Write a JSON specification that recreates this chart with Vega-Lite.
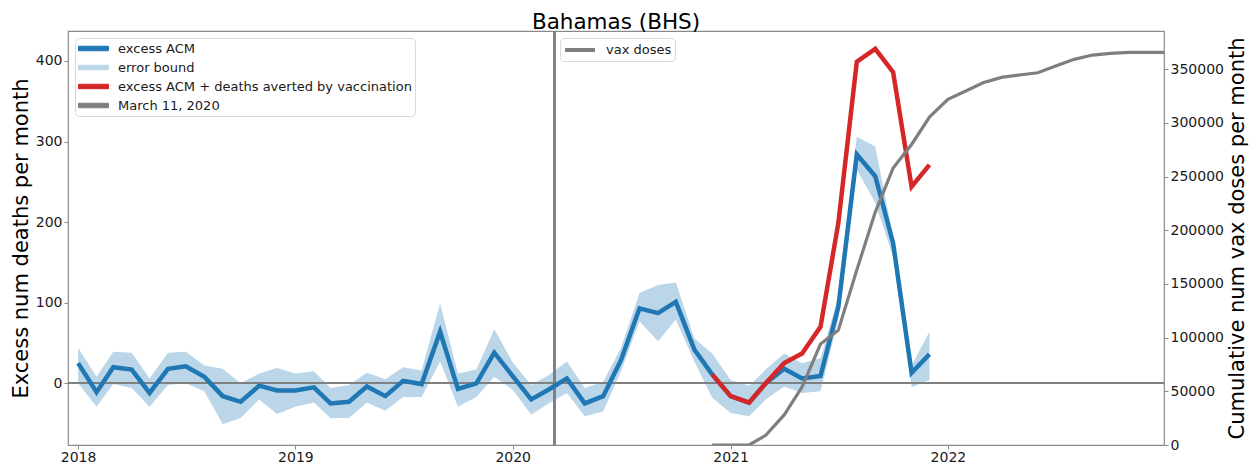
{
  "$schema": "https://vega.github.io/schema/vega-lite/v6.json",
  "width": 1096,
  "height": 414,
  "autosize": {"type": "none"},
  "padding": {"left": 68, "top": 31, "right": 95, "bottom": 26},
  "background": "white",
  "title": {"text": "Bahamas (BHS)", "font": "DejaVu Sans", "fontSize": 21.5, "fontWeight": "normal", "color": "#000000", "anchor": "middle", "frame": "group", "baseline": "alphabetic", "offset": 6, "dy": 26},
  "data": {"values": [
    {"date": "2018-01-01", "acm": 25, "lo": 0, "hi": 44, "red": null, "vax": null},
    {"date": "2018-02-01", "acm": -11, "lo": -29, "hi": 8, "red": null, "vax": null},
    {"date": "2018-03-01", "acm": 20, "lo": -1, "hi": 39, "red": null, "vax": null},
    {"date": "2018-04-01", "acm": 17, "lo": -6, "hi": 38, "red": null, "vax": null},
    {"date": "2018-05-01", "acm": -12, "lo": -29, "hi": 6, "red": null, "vax": null},
    {"date": "2018-06-01", "acm": 18, "lo": -2, "hi": 38, "red": null, "vax": null},
    {"date": "2018-07-01", "acm": 21, "lo": 0, "hi": 39, "red": null, "vax": null},
    {"date": "2018-08-01", "acm": 8, "lo": -10, "hi": 22, "red": null, "vax": null},
    {"date": "2018-09-01", "acm": -16, "lo": -51, "hi": 18, "red": null, "vax": null},
    {"date": "2018-10-01", "acm": -23, "lo": -43, "hi": 0, "red": null, "vax": null},
    {"date": "2018-11-01", "acm": -3, "lo": -20, "hi": 12, "red": null, "vax": null},
    {"date": "2018-12-01", "acm": -9, "lo": -38, "hi": 19, "red": null, "vax": null},
    {"date": "2019-01-01", "acm": -9, "lo": -29, "hi": 12, "red": null, "vax": null},
    {"date": "2019-02-01", "acm": -5, "lo": -24, "hi": 15, "red": null, "vax": null},
    {"date": "2019-03-01", "acm": -25, "lo": -43, "hi": -6, "red": null, "vax": null},
    {"date": "2019-04-01", "acm": -23, "lo": -43, "hi": -2, "red": null, "vax": null},
    {"date": "2019-05-01", "acm": -4, "lo": -24, "hi": 13, "red": null, "vax": null},
    {"date": "2019-06-01", "acm": -16, "lo": -34, "hi": 5, "red": null, "vax": null},
    {"date": "2019-07-01", "acm": 3, "lo": -17, "hi": 20, "red": null, "vax": null},
    {"date": "2019-08-01", "acm": -1, "lo": -17, "hi": 16, "red": null, "vax": null},
    {"date": "2019-09-01", "acm": 64, "lo": 27, "hi": 99, "red": null, "vax": null},
    {"date": "2019-10-01", "acm": -7, "lo": -29, "hi": 12, "red": null, "vax": null},
    {"date": "2019-11-01", "acm": 0, "lo": -17, "hi": 17, "red": null, "vax": null},
    {"date": "2019-12-01", "acm": 38, "lo": 8, "hi": 67, "red": null, "vax": null},
    {"date": "2020-01-01", "acm": 9, "lo": -8, "hi": 26, "red": null, "vax": null},
    {"date": "2020-02-01", "acm": -20, "lo": -39, "hi": -2, "red": null, "vax": null},
    {"date": "2020-03-01", "acm": -8, "lo": -25, "hi": 10, "red": null, "vax": null},
    {"date": "2020-04-01", "acm": 6, "lo": -12, "hi": 27, "red": null, "vax": null},
    {"date": "2020-05-01", "acm": -25, "lo": -41, "hi": -6, "red": null, "vax": null},
    {"date": "2020-06-01", "acm": -16, "lo": -35, "hi": 2, "red": null, "vax": null},
    {"date": "2020-07-01", "acm": 29, "lo": 15, "hi": 44, "red": null, "vax": null},
    {"date": "2020-08-01", "acm": 93, "lo": 77, "hi": 112, "red": null, "vax": null},
    {"date": "2020-09-01", "acm": 87, "lo": 52, "hi": 122, "red": null, "vax": null},
    {"date": "2020-10-01", "acm": 101, "lo": 79, "hi": 125, "red": null, "vax": null},
    {"date": "2020-11-01", "acm": 42, "lo": 27, "hi": 56, "red": null, "vax": null},
    {"date": "2020-12-01", "acm": 11, "lo": -18, "hi": 37, "red": 11, "vax": 0},
    {"date": "2021-01-01", "acm": -16, "lo": -37, "hi": 4, "red": -16, "vax": 0},
    {"date": "2021-02-01", "acm": -24, "lo": -41, "hi": -3, "red": -24, "vax": 0},
    {"date": "2021-03-01", "acm": 0, "lo": -20, "hi": 17, "red": 0, "vax": 9000},
    {"date": "2021-04-01", "acm": 18, "lo": -4, "hi": 37, "red": 25, "vax": 28000},
    {"date": "2021-05-01", "acm": 6, "lo": -12, "hi": 25, "red": 37, "vax": 54000},
    {"date": "2021-06-01", "acm": 9, "lo": -10, "hi": 31, "red": 70, "vax": 94000},
    {"date": "2021-07-01", "acm": 95, "lo": 79, "hi": 108, "red": 199, "vax": 107000},
    {"date": "2021-08-01", "acm": 284, "lo": 265, "hi": 306, "red": 399, "vax": 163000},
    {"date": "2021-09-01", "acm": 257, "lo": 224, "hi": 294, "red": 415, "vax": 217000},
    {"date": "2021-10-01", "acm": 174, "lo": 157, "hi": 182, "red": 386, "vax": 258000},
    {"date": "2021-11-01", "acm": 13, "lo": -5, "hi": 22, "red": 244, "vax": 280000},
    {"date": "2021-12-01", "acm": 36, "lo": 4, "hi": 64, "red": 271, "vax": 305500},
    {"date": "2022-01-01", "acm": null, "lo": null, "hi": null, "red": null, "vax": 322000},
    {"date": "2022-02-01", "acm": null, "lo": null, "hi": null, "red": null, "vax": 330000},
    {"date": "2022-03-01", "acm": null, "lo": null, "hi": null, "red": null, "vax": 337500},
    {"date": "2022-04-01", "acm": null, "lo": null, "hi": null, "red": null, "vax": 342500},
    {"date": "2022-05-01", "acm": null, "lo": null, "hi": null, "red": null, "vax": 344700},
    {"date": "2022-06-01", "acm": null, "lo": null, "hi": null, "red": null, "vax": 346800},
    {"date": "2022-07-01", "acm": null, "lo": null, "hi": null, "red": null, "vax": 353000},
    {"date": "2022-08-01", "acm": null, "lo": null, "hi": null, "red": null, "vax": 359300},
    {"date": "2022-09-01", "acm": null, "lo": null, "hi": null, "red": null, "vax": 363300},
    {"date": "2022-10-01", "acm": null, "lo": null, "hi": null, "red": null, "vax": 364900},
    {"date": "2022-11-01", "acm": null, "lo": null, "hi": null, "red": null, "vax": 365800},
    {"date": "2022-12-01", "acm": null, "lo": null, "hi": null, "red": null, "vax": 365800},
    {"date": "2023-01-01", "acm": null, "lo": null, "hi": null, "red": null, "vax": 365800}
  ]},
  "config": {
    "view": {"stroke": "#8a8a8a", "strokeWidth": 1.2},
    "font": "DejaVu Sans",
    "axis": {"domain": false, "grid": false, "tickColor": "#8a8a8a", "tickSize": 4, "labelFont": "DejaVu Sans", "labelFontSize": 14, "labelColor": "#1a1a1a", "titleFont": "DejaVu Sans", "titleFontSize": 21, "titleFontWeight": "normal", "titleColor": "#000000"},
    "legend": {"labelFont": "DejaVu Sans", "labelFontSize": 13, "labelColor": "#1a1a1a", "labelLimit": 500, "strokeColor": "#d9d9d9", "fillColor": "white", "cornerRadius": 4, "padding": 3, "symbolSize": 196, "symbolType": "M-1,-0.32H3.28V0.32H-1Z", "symbolStrokeWidth": 1, "symbolOpacity": 1, "labelOffset": 25, "rowPadding": 4}
  },
  "layer": [
    {
      "layer": [
        {
          "transform": [{"filter": "datum.lo != null"}],
          "mark": {"type": "area", "opacity": 1},
          "encoding": {
            "x": {"field": "date", "type": "temporal",
              "scale": {"type": "utc", "domain": [{"year": 2017, "month": 12, "date": 15, "utc": true}, {"year": 2022, "month": 12, "date": 30, "utc": true}]},
              "axis": {"title": null, "format": "%Y", "labelPadding": 1, "labelFlush": false,
                "values": [{"year": 2018, "month": 1, "date": 1, "utc": true}, {"year": 2019, "month": 1, "date": 1, "utc": true}, {"year": 2020, "month": 1, "date": 1, "utc": true}, {"year": 2021, "month": 1, "date": 1, "utc": true}, {"year": 2022, "month": 1, "date": 1, "utc": true}]}},
            "y": {"field": "lo", "type": "quantitative",
              "scale": {"domain": [-76.6, 437.2], "nice": false, "zero": false},
              "axis": {"orient": "left", "title": "Excess num deaths per month", "values": [0, 100, 200, 300, 400], "labelPadding": 2, "titlePadding": 4}},
            "y2": {"field": "hi"},
            "color": {"datum": "error bound", "type": "nominal",
              "scale": {"domain": ["excess ACM", "error bound", "excess ACM + deaths averted by vaccination", "March 11, 2020"], "range": ["#1f77b4", "#bcd6e9", "#d62728", "#808080"]},
              "legend": {"title": null, "orient": "none", "legendX": 7, "legendY": 7}}
          }
        },
        {
          "mark": {"type": "rule", "color": "#808080", "strokeWidth": 1.5},
          "encoding": {"y": {"datum": 0, "type": "quantitative"}}
        },
        {
          "mark": {"type": "rule", "strokeWidth": 1.3},
          "encoding": {
            "x": {"datum": {"year": 2020, "month": 3, "date": 11, "utc": true}, "type": "temporal"},
            "color": {"datum": "March 11, 2020", "type": "nominal"}
          }
        },
        {
          "mark": {"type": "line", "strokeWidth": 4.5},
          "encoding": {
            "x": {"field": "date", "type": "temporal"},
            "y": {"field": "acm", "type": "quantitative"},
            "color": {"datum": "excess ACM", "type": "nominal"}
          }
        },
        {
          "mark": {"type": "line", "strokeWidth": 4.5},
          "encoding": {
            "x": {"field": "date", "type": "temporal"},
            "y": {"field": "red", "type": "quantitative"},
            "color": {"datum": "excess ACM + deaths averted by vaccination", "type": "nominal"}
          }
        }
      ]
    },
    {
      "mark": {"type": "line", "strokeWidth": 3.2, "clip": true},
      "encoding": {
        "x": {"field": "date", "type": "temporal"},
        "y": {"field": "vax", "type": "quantitative",
          "scale": {"domain": [0, 385700], "nice": false, "zero": false},
          "axis": {"orient": "right", "title": "Cumulative num vax doses per month", "values": [0, 50000, 100000, 150000, 200000, 250000, 300000, 350000], "format": "d", "labelPadding": 2, "titleAngle": 270, "titleBaseline": "top", "titlePadding": 3}},
        "stroke": {"datum": "vax doses", "type": "nominal", "scale": {"range": ["#7f7f7f"]},
          "legend": {"title": null, "orient": "none", "legendX": 492, "legendY": 7, "symbolType": "M-1,0H3.28", "symbolStrokeWidth": 4}}
      }
    }
  ],
  "resolve": {"scale": {"y": "independent"}}
}
